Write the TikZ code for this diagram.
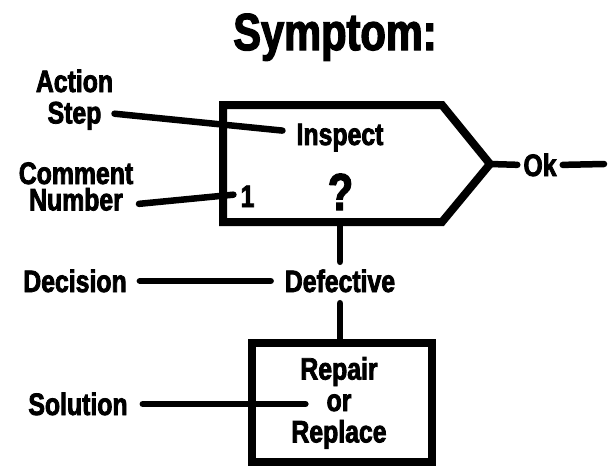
\documentclass[tikz,border=0pt]{standalone}
\usepackage{fontspec}
\setmainfont{Liberation Sans}[FakeStretch=0.8, BoldFeatures={FakeBold=2.5}]
\usetikzlibrary{positioning}

\begin{document}
\begin{tikzpicture}[x=1pt, y=-1pt, every node/.style={inner sep=0pt, text height=22pt, text depth=0pt, font=\fontsize{31}{31}\selectfont\bfseries}, lead/.style={line width=6.5pt, line cap=round}]
		\useasboundingbox (0,0) rectangle (614,466);
		\node (title) [anchor=base, font=\fontsize{52}{52}\selectfont\bfseries] at (335,50) {Symptom:};
		%Prüfblock
		\coordinate (p1) at (223,105); \coordinate (p2) at (442,105); \coordinate (tip) at (490,164);
		\coordinate (p4) at (442,222); \coordinate (p5) at (223,222);
		\draw [line width=8pt, line join=miter] (p1) -- (p2) -- (tip) -- (p4) -- (p5) -- cycle;
		\node (inspect) [anchor=base] at (340,145) {Inspect};
		\node (query) [anchor=base, font=\fontsize{52}{52}\selectfont\bfseries] at (340.5,210) {?};
		\node (one) [anchor=base] at (247.5,207) {1};
		\node (ok) [anchor=base] at (540,176) {Ok};
		\coordinate (okend) at (604,164);
		\draw [lead, shorten >=6pt] (tip) to (ok.west);
		\draw [lead, shorten <=6pt] (ok.east) to (okend);
		%Beschriftung links
		\node (action) [anchor=base] at (74.5,92) {Action};
		\node (step) [below=9pt of action] {Step};
		\node (comment) [anchor=base] at (76,184) {Comment};
		\node (number) [below=4pt of comment] {Number};
		\draw [lead, shorten <=13pt, shorten >=14pt] (step.east) to ([yshift=2pt]inspect.west);
		\draw [lead, shorten <=16pt, shorten >=7pt] ([yshift=-6pt]number.east) to ([yshift=2pt]one.west);
		%Entscheidung
		\node (defective) [anchor=base] at (340,292) {Defective};
		\node (decision) [anchor=base] at (75,292) {Decision};
		\draw [lead, shorten >=8pt] (defective.north |- p5) to (defective.north);
		\draw [lead, shorten <=13pt, shorten >=14pt] (decision.east) to (defective.west);
		%Lösung
		\node (fix) [draw, line width=8pt, minimum width=180pt, minimum height=119pt] at (342,402.5) {};
		\node (orword) [anchor=base] at (339,411) {or};
		\node (repair) [above=9pt of orword] {Repair};
		\node (replace) [below=9pt of orword] {Replace};
		\node (solution) [anchor=base] at (78,415) {Solution};
		\draw [lead, shorten <=11pt] (defective.south) to (defective.south |- fix.north);
		\draw [lead, shorten <=15pt, shorten >=21pt] (solution.east) to (solution.east -| orword.west);
	\end{tikzpicture}
\end{document}
